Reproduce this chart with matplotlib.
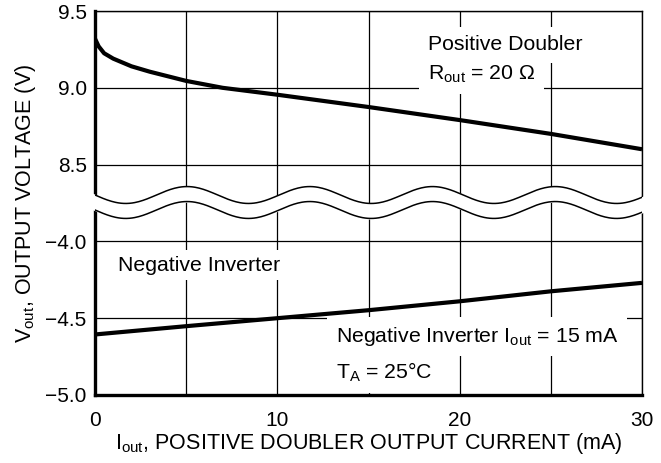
import numpy as np
import matplotlib
matplotlib.use("Agg")
import matplotlib.pyplot as plt

plt.rcParams['font.family'] = ['Liberation Sans', 'DejaVu Sans']
plt.rcParams['mathtext.default'] = 'regular'

# positive doubler output (V) vs I_out (mA)
pos_i = [0, 0.2, 0.5, 1, 2, 3, 5, 7, 10, 15, 20, 25, 30]
pos_v = [9.32, 9.27, 9.225, 9.19, 9.14, 9.105, 9.045, 9.0, 8.955, 8.875, 8.79, 8.70, 8.60]

# negative inverter output (V) vs I_out (mA)
neg_i = [0, 5, 10, 15, 20, 25, 30]
neg_v = [-4.606, -4.552, -4.50, -4.448, -4.39, -4.325, -4.27]

# y tick values, top group and bottom group
upper_ticks = [8.5, 9.0, 9.5]
lower_ticks = [-5.0, -4.5, -4.0]
x_ticks = [0, 10, 20, 30]


# broken axis: lower group occupies units 0..2, upper group units 3..5
def lower_pos(v):
    return (np.asarray(v) + 5.0) / 0.5


def upper_pos(v):
    return 3 + (np.asarray(v) - 8.5) / 0.5


fig = plt.figure(figsize=(6.61, 4.63), dpi=100)
ax = fig.add_axes([0.1437, 0.1469, 0.9713 - 0.1437, 0.9762 - 0.1469])

ax.set_xlim(0, 30)
ax.set_ylim(0, 5)

# grid
ax.set_xticks(np.arange(0, 31, 5), minor=True)
ax.set_xticks(x_ticks)
ax.set_xticklabels([str(t) for t in x_ticks])
yt = list(lower_pos(lower_ticks)) + list(upper_pos(upper_ticks))
ax.set_yticks(yt)
ax.set_yticklabels([f"{v:.1f}".replace('-', '\u2212') for v in lower_ticks + upper_ticks])
ax.grid(True, which='both', color='black', linewidth=0.9, zorder=0)
ax.tick_params(which='both', length=0, labelsize=15, colors='black')
ax.tick_params(axis='y', pad=6)
ax.tick_params(axis='x', pad=11.5)

for s in ['left', 'bottom']:
    ax.spines[s].set_linewidth(2.4)
for s in ['top', 'right']:
    ax.spines[s].set_linewidth(1.0)

ax.plot(pos_i, upper_pos(pos_v), color='black', lw=3, solid_capstyle='butt', zorder=4)
ax.plot(neg_i, lower_pos(neg_v), color='black', lw=3, solid_capstyle='butt', zorder=4)

# wavy break
xw = np.linspace(0, 30, 400)
xf = np.linspace(-0.3, 30.3, 400)
amp, per, crest = 0.11, 6.73, 5.05
top_w = 2.604 + amp * np.cos(2 * np.pi * (xw - crest) / per)
bot_w = 2.409 + amp * np.cos(2 * np.pi * (xw - crest) / per)
top_f = 2.604 + amp * np.cos(2 * np.pi * (xf - crest) / per)
bot_f = 2.409 + amp * np.cos(2 * np.pi * (xf - crest) / per)
ax.fill_between(xf, bot_f, top_f, color='white', zorder=3, clip_on=False)
ax.plot(xw, top_w, color='black', lw=1.1, zorder=3.5)
ax.plot(xw, bot_w, color='black', lw=1.1, zorder=3.5)

fs = 15.3
ax.text(18.25, 4.56, 'Positive Doubler', fontsize=fs, va='center', ha='left',
        bbox=dict(facecolor='white', edgecolor='none', pad=6), zorder=5)
ax.text(18.25, 4.17, 'R$_{out}$ = 20 \u03a9', fontsize=fs, va='center', ha='left',
        bbox=dict(facecolor='white', edgecolor='none', pad=6), zorder=5)
ax.text(1.26, 1.69, 'Negative Inverter', fontsize=fs, va='center', ha='left',
        bbox=dict(facecolor='white', edgecolor='none', pad=4), zorder=5)
ax.text(13.2, 0.76, 'Negative Inverter I$_{out}$ = 15 mA', fontsize=fs, va='center', ha='left',
        bbox=dict(facecolor='white', edgecolor='none', pad=6), zorder=5)
ax.text(13.2, 0.29, 'T$_{A}$ = 25\u00b0C', fontsize=fs, va='center', ha='left',
        bbox=dict(facecolor='white', edgecolor='none', pad=6), zorder=5)

ax.set_xlabel('I$_{out}$, POSITIVE DOUBLER OUTPUT CURRENT (mA)', fontsize=15.5, labelpad=1)
ax.set_ylabel('V$_{out}$, OUTPUT VOLTAGE (V)', fontsize=15.5, labelpad=5)

fig.savefig('out.png', dpi=100)
